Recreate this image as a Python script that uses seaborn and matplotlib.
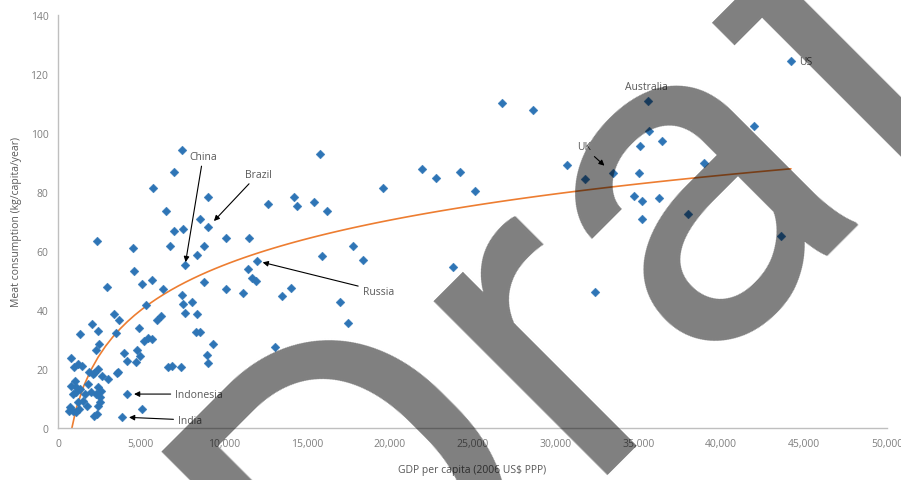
import numpy as np
import pandas as pd
import matplotlib
matplotlib.use("Agg")
import matplotlib.pyplot as plt
import seaborn as sns

# ---------------- data ----------------
gdp = [
    3382, 3684, 2053, 2416, 3503, 1329, 4892, 6220, 5979, 5314,
    2476, 2295, 3986, 4771, 5435, 5194, 5677, 4952, 4167, 4710,
    785, 1208, 966, 2416, 2657, 2174, 1872, 3623, 3020, 6643,
    6885, 7428, 1027, 1087, 1329, 906, 1631, 1812, 2416, 2597,
    2537, 4167, 1510, 1208, 725, 906, 1268, 1751, 2416, 2355,
    5073, 2174, 3865,
    1449, 785, 1087, 1993, 2295, 2537, 1087,
    2355, 4529, 6764, 8817, 10146, 11535, 7669, 8394, 12018, 4590,
    5073, 5677, 8817, 11474, 11716, 11957, 10146, 11172, 2959, 6341,
    7488, 7549, 7669, 8092, 8394, 8576, 8334, 9360, 8998, 9059,
    13105, 13527, 14071, 3563, 2114, 664,
    7488, 7005, 5737, 9059, 6522, 8576, 9059, 7005, 7549, 12682,
    14252, 14433,
    15822, 15460, 16245, 19627, 21982, 22828, 24217, 25123, 26753, 28625,
    30678, 31765, 15943, 17815, 18419, 23854, 17030, 17513, 32369,
    44205, 35570, 41971, 35630, 36415, 35087, 38952, 33456, 35027, 34725,
    35208, 36234, 35208, 37986, 43602,
]
meat = [
    38.6, 36.6, 35.3, 32.9, 32.2, 31.9, 33.9, 38.0, 36.6, 41.7,
    28.5, 26.4, 25.4, 26.4, 30.5, 29.5, 30.2, 24.4, 22.7, 22.4,
    23.7, 21.7, 20.7, 20.0, 17.6, 18.6, 19.0, 19.0, 16.6, 20.7,
    21.0, 20.7, 15.9, 13.9, 13.2, 11.5, 11.5, 14.9, 13.9, 12.5,
    10.5, 11.5, 9.2, 8.8, 7.1, 5.8, 6.4, 7.5, 7.5, 4.7,
    6.4, 4.1, 3.7,
    21.0, 14.2, 12.2, 12.2, 11.5, 8.8, 5.4,
    63.4, 61.0, 61.7, 61.7, 64.4, 64.4, 55.3, 58.6, 56.6, 53.2,
    48.8, 50.2, 49.5, 53.9, 50.8, 49.8, 47.1, 45.8, 47.8, 47.1,
    45.1, 42.0, 39.0, 42.7, 38.6, 32.5, 32.5, 28.5, 24.7, 22.0,
    27.5, 44.7, 47.5, 18.6, 18.3, 5.8,
    94.2, 86.8, 81.4, 78.3, 73.6, 70.8, 68.1, 66.8, 67.5, 75.9,
    78.3, 75.3,
    92.9, 76.6, 73.6, 81.4, 87.8, 84.7, 86.8, 80.3, 110.2, 107.8,
    89.2, 84.4, 58.3, 61.7, 56.9, 54.6, 42.7, 35.6, 46.1,
    124.4, 110.8, 102.4, 100.7, 97.3, 95.6, 89.8, 86.4, 86.4, 78.6,
    76.9, 78.0, 70.8, 72.5, 65.1,
]

labelled = ["China", "Brazil", "Russia", "Indonesia", "India", "UK", "Australia", "US"]
labelled_gdp = [7669, 9059, 12018, 4167, 3865, 33456, 35570, 44205]
labelled_meat = [55.3, 68.1, 56.6, 11.5, 3.7, 86.4, 110.8, 124.4]

x_ticks = [0, 5000, 10000, 15000, 20000, 25000, 30000, 35000, 40000, 45000, 50000]
y_ticks = [0, 20, 40, 60, 80, 100, 120, 140]

x_title = "GDP per capita (2006 US$ PPP)"
y_title = "Meat consumption (kg/capita/year)"
watermark = "Draft"

# ---------------- layout / style ----------------
# text centre (data coords), arrow?, arrow shrink at the point (pt)
label_layout = {
    "China":     ((8757, 92.2), True, 2),
    "Brazil":    ((12078, 86.1), True, 6),
    "Russia":    ((19325, 46.4), True, 4),
    "Indonesia": ((8515, 11.5), True, 5),
    "India":     ((7971, 2.7), True, 5),
    "UK":        ((31705, 95.3), True, 8),
    "Australia": ((35509, 115.6), False, 0),
    "US":        ((45112, 124.4), False, 0),
}

BLUE = "#2E75B6"
ORANGE = "#ED7D31"
GREY_TXT = "#595959"
TICK_TXT = "#7F7F7F"
FONT = "Open Sans"

sns.set_theme(style="white")
plt.rcParams["font.family"] = [FONT, "DejaVu Sans"]

df = pd.DataFrame({"gdp": gdp, "meat": meat})

fig = plt.figure(figsize=(9.01, 4.81), dpi=100)
ax = fig.add_axes([58 / 901, 1 - 429 / 481, (887 - 58) / 901, (429 - 16) / 481])

sns.scatterplot(data=df, x="gdp", y="meat", marker="D", s=20, color=BLUE,
                edgecolor=BLUE, linewidth=0.3, ax=ax, zorder=3)
sns.regplot(data=df, x="gdp", y="meat", logx=True, scatter=False, ci=None,
            line_kws={"color": ORANGE, "lw": 1.2, "zorder": 2}, ax=ax)

ax.set_xlim(x_ticks[0], x_ticks[-1])
ax.set_ylim(y_ticks[0], y_ticks[-1])
ax.set_xticks(x_ticks)
ax.set_yticks(y_ticks)
ax.set_xticklabels([f"{v:,}" for v in x_ticks])
ax.set_yticklabels([str(v) for v in y_ticks])
ax.tick_params(axis="both", length=0, labelsize=7.5, labelcolor=TICK_TXT)
ax.tick_params(axis="x", pad=7)
ax.tick_params(axis="y", pad=7)
for side in ["top", "right"]:
    ax.spines[side].set_visible(False)
for side in ["left", "bottom"]:
    ax.spines[side].set_color("#BFBFBF")
    ax.spines[side].set_linewidth(1.0)
ax.set_xlabel(x_title, fontsize=7.5, color=GREY_TXT, labelpad=11)
ax.set_ylabel(y_title, fontsize=7.5, color=GREY_TXT, labelpad=6)
ax.grid(False)

for name, px, py in zip(labelled, labelled_gdp, labelled_meat):
    (tx, ty), arrow, shrink = label_layout[name]
    if arrow:
        ax.annotate(name, xy=(px, py), xytext=(tx, ty), textcoords="data",
                    ha="center", va="center", fontsize=7.5, color=GREY_TXT,
                    arrowprops=dict(arrowstyle="-|>", color="black", lw=0.8,
                                    mutation_scale=8, shrinkA=1, shrinkB=shrink),
                    zorder=5)
    else:
        ax.text(tx, ty, name, ha="center", va="center", fontsize=7.5,
                color=GREY_TXT, zorder=5)

fig.text(358 / 901, 1 - 686 / 481, watermark, fontsize=336, family=["Roboto", "DejaVu Sans"],
         rotation=45, rotation_mode="anchor", ha="left", va="baseline",
         color="black", alpha=0.5, zorder=100)

fig.savefig("out.png", dpi=100)
